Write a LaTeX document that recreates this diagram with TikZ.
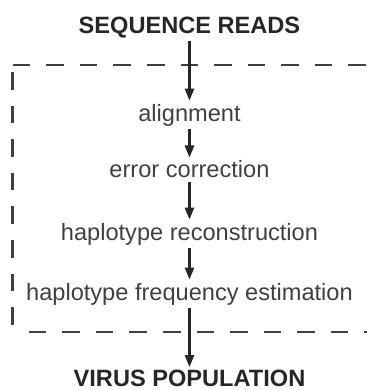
\documentclass[tikz,border=0pt]{standalone}
\usepackage{fontspec}
\setmainfont{Liberation Sans}
\usetikzlibrary{arrows.meta}

\newcommand{\flowfont}{\fontsize{11.8}{14}\selectfont}

\tikzset{
  title/.style={font=\flowfont\bfseries, text=black!85, inner sep=1.5pt, anchor=base},
  stage/.style={font=\flowfont, text=black!75, inner sep=1.5pt, anchor=base},
  flow/.style={-{Triangle[length=6pt,width=4.6pt]}, line width=1.1pt, black!85},
  frame/.style={line width=1.2pt, black!75, dash pattern=on 8.8pt off 8pt}
}

\begin{document}
\begin{tikzpicture}
\useasboundingbox (-3.33,0) rectangle (3.12,-6.854);

%pipeline box (open on the right)

\coordinate (tl) at (-3.11,-1.142);
\coordinate (bl) at (-3.11,-5.835);
\coordinate (tr) at (3.12,-1.142);
\coordinate (br) at (3.12,-5.835);

\draw[frame] (tl) -- (tr);
\draw[frame, dash phase=13.3pt] (tl) -- (bl);
\draw[frame, dash phase=8.8pt] (bl) -- (br);

%steps

\node[title] (reads) at (0,-0.580) {SEQUENCE READS};
\node[stage] (align) at (0,-2.127) {alignment};
\node[stage] (error) at (0,-3.128) {error correction};
\node[stage] (recon) at (0,-4.218) {haplotype reconstruction};
\node[stage] (freq) at (0,-5.273) {haplotype frequency estimation};
\node[title] (virus) at (0,-6.80) {VIRUS POPULATION};

\draw[flow] (reads) -- (align);
\draw[flow] (align) -- (error);
\draw[flow] (error) -- (recon);
\draw[flow] (recon) -- (freq);
\draw[flow] (freq) -- (virus);

\end{tikzpicture}
\end{document}
